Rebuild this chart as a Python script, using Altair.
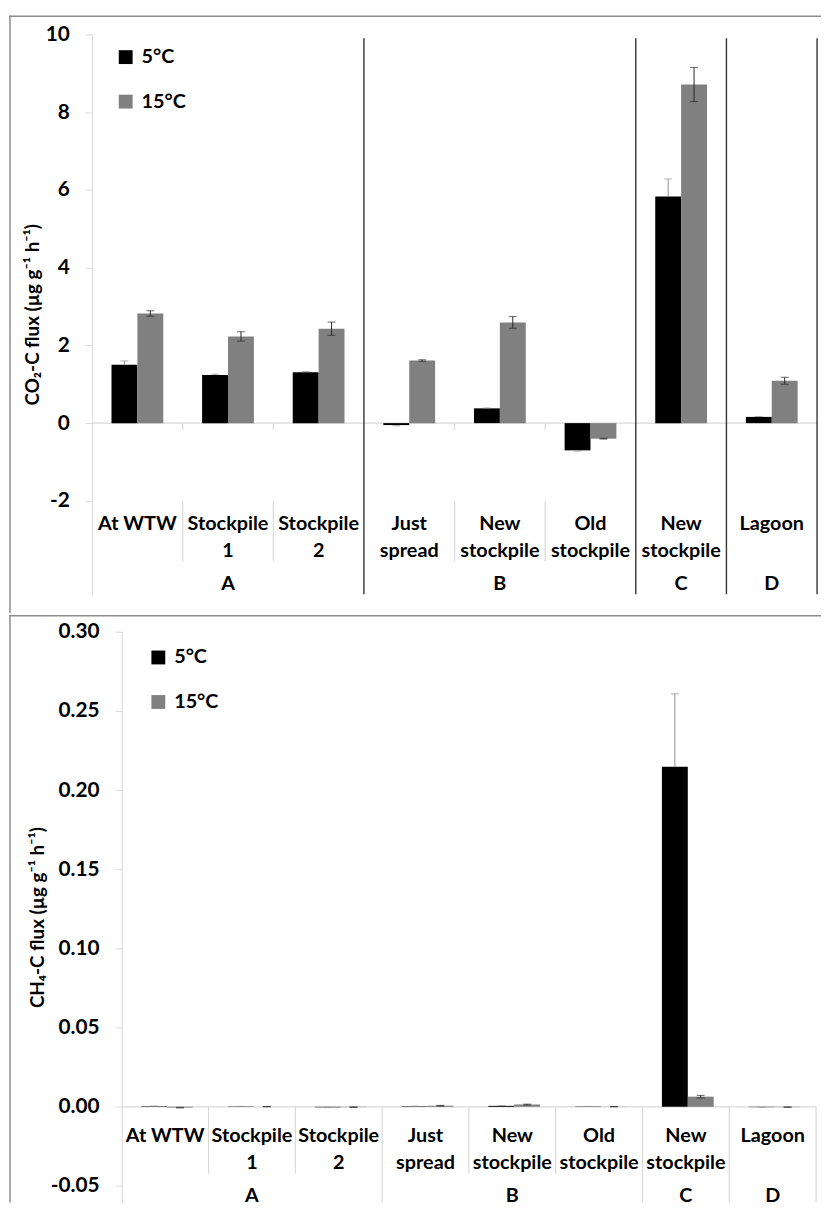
import altair as alt
import pandas as pd

FONT = "Lato"

# ---------------- data ----------------
keys = ["a1", "a2", "a3", "b1", "b2", "b3", "c1", "d1"]
cat_labels = ["At WTW", "Stockpile\n1", "Stockpile\n2", "Just\nspread",
              "New\nstockpile", "Old\nstockpile", "New\nstockpile", "Lagoon"]
group_names = ["A", "B", "C", "D"]
group_centre_keys = ["a2", "b2", "c1", "d1"]
minor_bound_keys = ["a2", "a3", "b2", "b3"]
major_bound_keys = ["b1", "c1", "d1"]
temps = ["5°C", "15°C"]

co2_5 = [1.50, 1.24, 1.31, -0.05, 0.38, -0.70, 5.83, 0.16]
co2_5_err = [0.10, 0.02, 0.02, 0.02, 0.01, 0.02, 0.45, 0.01]
co2_15 = [2.82, 2.23, 2.43, 1.61, 2.59, -0.40, 8.71, 1.09]
co2_15_err = [0.07, 0.12, 0.17, 0.02, 0.15, 0.01, 0.44, 0.09]

ch4_5 = [0.0003, 0.0002, -0.0003, 0.0003, 0.0006, 0.0002, 0.2148, -0.0002]
ch4_5_err = [0.0002, 0.0001, 0.0002, 0.0001, 0.0002, 0.0001, 0.046, 0.0001]
ch4_15 = [-0.0005, 0.0001, -0.0002, 0.0007, 0.0014, 0.0001, 0.0064, -0.0002]
ch4_15_err = [0.0002, 0.0001, 0.0002, 0.0002, 0.0003, 0.0001, 0.0008, 0.0001]

co2_ticks = [-2, 0, 2, 4, 6, 8, 10]
ch4_ticks = [-0.05, 0.0, 0.05, 0.10, 0.15, 0.20, 0.25, 0.30]


def bar_df(v5, e5, v15, e15):
    rows = []
    for k, a, ea, b, eb in zip(keys, v5, e5, v15, e15):
        # the 5°C error bar is only visible outside the black bar
        lo_a = a if a >= 0 else a - ea
        hi_a = a + ea if a >= 0 else a
        rows.append(dict(key=k, temp=temps[0], value=a, lo=lo_a, hi=hi_a,
                         capl=None, caph=a + ea if a >= 0 else a - ea))
        rows.append(dict(key=k, temp=temps[1], value=b, lo=b - eb, hi=b + eb,
                         capl=b - eb, caph=b + eb))
    return pd.DataFrame(rows)


cat_df = pd.DataFrame({"key": keys, "label": cat_labels})
grp_df = pd.DataFrame({"key": group_centre_keys, "name": group_names})
minor_df = pd.DataFrame({"key": minor_bound_keys})
major_df = pd.DataFrame({"key": major_bound_keys})
end_df = pd.DataFrame({"key": [keys[-1]]})
span_df = pd.DataFrame({"start": [keys[0]], "end": [keys[-1]]})
one_df = pd.DataFrame({"k": [0]})


def panel(df, W, H, xr, ydom, yr, yticks, fmt, title, label_y, group_y,
          minor_y, major_y, major_color, major_width, zero_tick_y, legend_xy):
    xsc = alt.Scale(domain=keys, range=xr, paddingInner=0, paddingOuter=0)
    ysc = alt.Scale(domain=ydom, range=yr, nice=False, zero=False)
    offsc = alt.Scale(domain=temps, paddingInner=0, paddingOuter=0.75)

    def X(field="key", bp=None):
        if bp is None:
            return alt.X(f"{field}:N", scale=xsc, axis=None)
        return alt.X(f"{field}:N", scale=xsc, axis=None, bandPosition=bp)

    err_col = alt.when(alt.datum.temp == temps[0]).then(alt.value("#8f8f8f")).otherwise(alt.value("#262626"))

    yaxis = alt.Axis(
        values=yticks, format=fmt,
        labelExpr="replace(datum.label, '\u2212', '-')",
        offset=-(xr[0]), grid=False,
        domainColor="#d9d9d9", tickColor="#d9d9d9", tickSize=7,
        labelPadding=16, labelFont=FONT, labelFontWeight="bold",
        labelFontSize=21, labelColor="black",
        title=title, titleFont=FONT, titleFontSize=19,
        titleFontWeight="bold", titleColor="black", titlePadding=3,
    )

    zero_line = alt.Chart(span_df).mark_rule(color="#d9d9d9", strokeWidth=1.2).encode(
        x=X("start", 0), x2=alt.X2("end:N", bandPosition=1), y=alt.datum(0)
    )

    bars = alt.Chart(df).mark_bar().encode(
        x=X(),
        xOffset=alt.XOffset("temp:N", scale=offsc),
        y=alt.Y("value:Q", scale=ysc, axis=yaxis),
        y2=alt.datum(0),
        color=alt.Color(
            "temp:N",
            scale=alt.Scale(domain=temps, range=["#000000", "#808080"]),
            legend=alt.Legend(
                orient="none", legendX=legend_xy[0], legendY=legend_xy[1],
                title=None, symbolType="square", symbolSize=196,
                symbolStrokeWidth=0, labelFont=FONT, labelFontWeight="bold",
                labelFontSize=20, labelColor="black", rowPadding=25,
                labelOffset=6, direction="vertical",
            ),
        ),
    )

    errs = alt.Chart(df).mark_rule(strokeWidth=1).encode(
        x=X(), xOffset=alt.XOffset("temp:N", scale=offsc),
        y=alt.Y("lo:Q", scale=ysc), y2="hi:Q", color=err_col,
    )
    cap_hi = alt.Chart(df).mark_tick(orient="horizontal", size=8, thickness=1).encode(
        x=X(), xOffset=alt.XOffset("temp:N", scale=offsc),
        y=alt.Y("caph:Q", scale=ysc), color=err_col,
    )
    cap_lo = alt.Chart(df).transform_filter("isValid(datum.capl)").mark_tick(
        orient="horizontal", size=8, thickness=1).encode(
        x=X(), xOffset=alt.XOffset("temp:N", scale=offsc),
        y=alt.Y("capl:Q", scale=ysc), color=err_col,
    )

    labels = alt.Chart(cat_df).mark_text(
        font=FONT, fontWeight="bold", fontSize=20, baseline="top",
        lineBreak="\n", lineHeight=27, align="center", color="black",
    ).encode(x=X(), y=alt.datum(label_y), text="label:N")

    glabels = alt.Chart(grp_df).mark_text(
        font=FONT, fontWeight="bold", fontSize=20, baseline="middle",
        align="center", color="black",
    ).encode(x=X(), y=alt.datum(group_y), text="name:N")

    minor = alt.Chart(minor_df).mark_rule(color="#d9d9d9", strokeWidth=1.2).encode(
        x=X("key", 0), y=alt.datum(minor_y[0]), y2=alt.datum(minor_y[1])
    )
    major = alt.Chart(major_df).mark_rule(color=major_color, strokeWidth=major_width).encode(
        x=X("key", 0), y=alt.datum(major_y[0]), y2=alt.datum(major_y[1])
    )
    major_end = alt.Chart(end_df).mark_rule(color=major_color, strokeWidth=major_width).encode(
        x=X("key", 1), y=alt.datum(major_y[0]), y2=alt.datum(major_y[1])
    )

    layers = [zero_line, minor, major, major_end]
    if zero_tick_y is not None:
        layers.append(
            alt.Chart(minor_df).mark_rule(color="#d9d9d9", strokeWidth=1.2).encode(
                x=X("key", 0), y=alt.datum(0), y2=alt.datum(zero_tick_y)
            )
        )
    layers += [bars, errs, cap_hi, cap_lo, labels, glabels]

    border_left = alt.Chart(one_df).mark_rule(color="#8c8c8c", strokeWidth=1.5).encode(
        x=alt.value(1), y=alt.value(0), y2=alt.value(H)
    )
    border_top = alt.Chart(one_df).mark_rule(color="#8c8c8c", strokeWidth=1.5).encode(
        x=alt.value(0), x2=alt.value(W), y=alt.value(0.75)
    )
    layers += [border_left, border_top]

    return alt.layer(*layers).properties(width=W, height=H)


top = panel(
    bar_df(co2_5, co2_5_err, co2_15, co2_15_err),
    W=821, H=604, xr=[84, 817], ydom=[-4.4, 10], yr=[585, 19],
    yticks=co2_ticks, fmt="d",
    title="CO\u2082-C flux (\u00b5g g\u207b\u00b9 h\u207b\u00b9)",
    label_y=-2.34, group_y=-4.15, minor_y=[-2.0, -3.56],
    major_y=[9.9, -4.4], major_color="#333333", major_width=1.4,
    zero_tick_y=-0.18, legend_xy=[108, 32],
)

bottom = panel(
    bar_df(ch4_5, ch4_5_err, ch4_15, ch4_15_err),
    W=821, H=594, xr=[114, 816], ydom=[-0.0604, 0.30], yr=[594, 17],
    yticks=ch4_ticks, fmt=".2f",
    title="CH\u2084-C flux (\u00b5g g\u207b\u00b9 h\u207b\u00b9)",
    label_y=-0.0123, group_y=-0.0565, minor_y=[0.0, -0.0423],
    major_y=[0.0, -0.0604], major_color="#d9d9d9", major_width=1.2,
    zero_tick_y=None, legend_xy=[141, 33],
)

chart = (
    alt.vconcat(top, bottom, spacing=0)
    .resolve_scale(color="independent", x="independent", y="independent")
    .resolve_legend(color="independent")
    .properties(padding=0, background="white")
    .configure_view(stroke=None)
)

chart.save("out.html", embed_options={"renderer": "svg", "actions": False})
